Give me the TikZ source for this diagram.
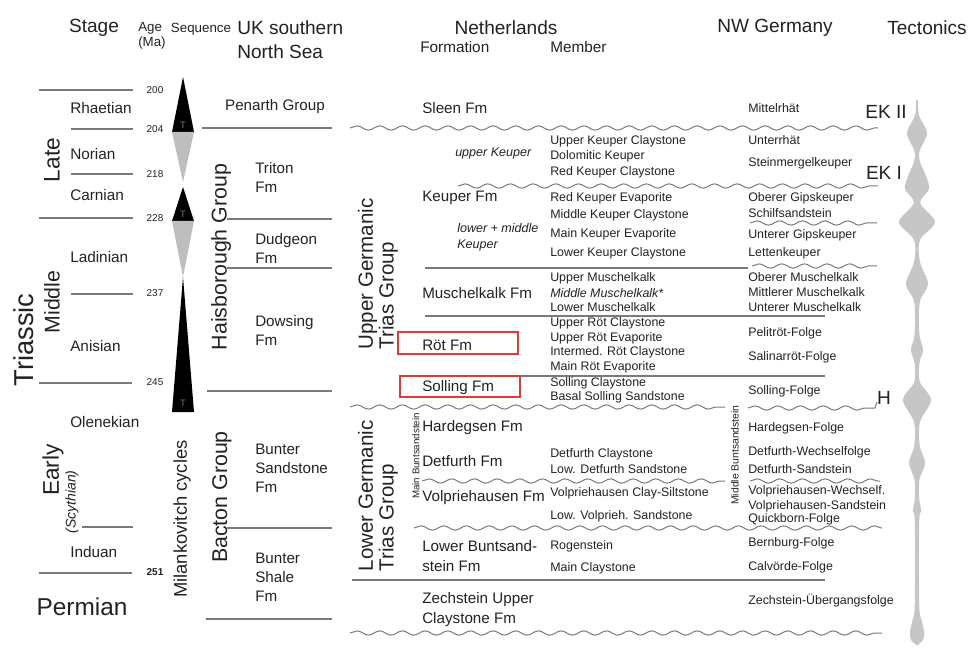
\documentclass[tikz,border=0pt]{standalone}
\usepackage{fontspec}
\setmainfont{Liberation Sans}
\usetikzlibrary{decorations.pathmorphing}
\definecolor{txt}{HTML}{222222}
\definecolor{rulegray}{HTML}{7A7A7A}
\definecolor{seqgray}{HTML}{BEBEBE}
\definecolor{tecgray}{HTML}{C6C6C6}
\definecolor{boxred}{HTML}{E53935}
\tikzset{
  every node/.style={text=txt, inner sep=0pt},
  head/.style={font=\fontsize{14.3}{18}\selectfont},
  smallhead/.style={font=\fontsize{10}{11}\selectfont},
  subhead/.style={font=\fontsize{11.5}{13}\selectfont, anchor=west},
  era/.style={font=\fontsize{17}{19}\selectfont, rotate=90},
  stage/.style={font=\fontsize{11.5}{13}\selectfont, anchor=west},
  agenum/.style={font=\fontsize{7.5}{9}\selectfont},
  grp/.style={font=\fontsize{16}{19}\selectfont, rotate=90},
  fm/.style={font=\fontsize{11.4}{14.25}\selectfont, anchor=west, align=left},
  mbr/.style={font=\fontsize{9.3}{11}\selectfont, anchor=west},
  nwname/.style={font=\fontsize{9.3}{11}\selectfont, anchor=west},
  bound/.style={draw=rulegray, line width=0.8pt},
  wavy/.style={draw=rulegray, line width=0.75pt, decorate,
    decoration={snake, segment length=17pt, amplitude=1.6pt}},
  redbox/.style={draw=boxred, line width=0.9pt},
}
\begin{document}
\begin{tikzpicture}[x=0.75pt, y=-0.75pt]
\useasboundingbox (0,0) rectangle (969,648);
% Column heads
\node[head] (hd-stage) at (94,28) {Stage};
\node[smallhead, anchor=west, align=left] (hd-age) at (138,36) {Age\\(Ma)};
\node[smallhead] (hd-seq) at (201,29) {Sequence};
\node[head, anchor=west, align=left] (hd-uk) at (237,40) {UK southern\\North Sea};
\node[head] (hd-nl) at (506,28) {Netherlands};
\node[subhead] (hd-fm) at (420,47) {Formation};
\node[subhead] (hd-mb) at (550,47) {Member};
\node[head] (hd-nw) at (775,28) {NW Germany};
\node[head] (hd-tec) at (927,28) {Tectonics};

% Stage column
\node[font=\fontsize{20.5}{22}\selectfont, rotate=90] (st-triassic) at (24,340) {Triassic};
\node[era] (st-late) at (52,160) {Late};
\node[era, font=\fontsize{16}{18}\selectfont] (st-middle) at (52,302) {Middle};
\node[era] (st-early) at (53,470) {Early};
\node[font=\fontsize{10.5}{12}\selectfont\itshape, rotate=90] (st-scyth) at (72,502) {(Scythian)};
\node[font=\fontsize{18.3}{20}\selectfont] (st-permian) at (82,607) {Permian};
\foreach \y/\s/\n in {108/Rhaetian/rhae, 154/Norian/nori, 195/Carnian/carn,
  257/Ladinian/ladi, 346/Anisian/anis, 422/Olenekian/olen, 552/Induan/indu}
  \node[stage] (st-\n) at (70,\y) {\s};
\draw[bound] (39,90) -- (133,90);
\draw[bound] (71,129) -- (133,129);
\draw[bound] (71,174) -- (133,174);
\draw[bound] (39,218) -- (133,218);
\draw[bound] (71,294) -- (133,294);
\draw[bound] (39,383) -- (132,383);
\draw[bound] (82,527) -- (133,527);
\draw[bound] (39,573) -- (132,573);

% Ages (Ma)
\foreach \y/\a in {90/200, 129/204, 174/218, 218/228, 293/237, 382/245}
  \node[agenum] (age\a) at (155,\y) {\a};
\node[agenum, font=\fontsize{7.5}{9}\selectfont\bfseries] (age251) at (155,572) {251};

% Sequence triangles
\fill[black] (183,77) -- (194,132) -- (172,132) -- cycle;
\fill[seqgray] (172,132) -- (194,132) -- (183,182) -- cycle;
\fill[black] (183,187) -- (194,221) -- (172,221) -- cycle;
\fill[seqgray] (172,221) -- (194,221) -- (183,277) -- cycle;
\fill[black] (183,277) -- (194,412) -- (172,412) -- cycle;
\foreach \y/\n in {125/a, 214/b, 403/c}
  \node[font=\fontsize{7}{8}\selectfont, text=black!55] (seq-t\n) at (183,\y) {T};
\node[font=\fontsize{13.8}{15}\selectfont, rotate=90] (seq-mila) at (182,519) {Milankovitch cycles};

% UK southern North Sea
\node[fm, anchor=center] (uk-penarth) at (275,107) {Penarth Group};
\node[grp] (uk-hais) at (221,257) {Haisborough Group};
\node[grp] (uk-bacton) at (222,497) {Bacton Group};
\node[fm] (uk-triton) at (255,177.5) {Triton\\Fm};
\node[fm] (uk-dudgeon) at (255,248.5) {Dudgeon\\Fm};
\node[fm] (uk-dowsing) at (255,330.5) {Dowsing\\Fm};
\node[fm] (uk-bsst) at (255,468) {Bunter\\Sandstone\\Fm};
\node[fm] (uk-bshale) at (255,577) {Bunter\\Shale\\Fm};
\draw[bound] (202,128) -- (332,128);
\draw[bound] (227,219) -- (332,219);
\draw[bound] (227,268) -- (332,268);
\draw[bound] (207,391) -- (332,391);
\draw[bound] (227,528) -- (332,528);
\draw[bound] (206,619) -- (332,619);

% Netherlands: groups
\node[font=\fontsize{15.4}{15.5}\selectfont, rotate=90, align=left] (nl-upper) at (378,274) {Upper Germanic\\Trias Group};
\node[font=\fontsize{15.4}{15.5}\selectfont, rotate=90, align=left] (nl-lower) at (378,496) {Lower Germanic\\Trias Group};
\node[font=\fontsize{7.3}{8}\selectfont, rotate=90] (nl-mainbs) at (416,456) {Main Buntsandstein};
\node[font=\fontsize{7.8}{8}\selectfont, rotate=90] (nw-midbs) at (735,455) {Middle Buntsandstein};

% Netherlands: formations
\node[fm] (nl-sleen) at (422,108) {Sleen Fm};
\node[fm] (nl-keuper) at (422,198) {Keuper Fm};
\node[fm] (nl-muschel) at (422,293) {Muschelkalk Fm};
\node[fm] (nl-rot) at (422,345) {Röt Fm};
\node[fm] (nl-solling) at (422,388) {Solling Fm};
\node[fm] (nl-hardeg) at (422,428) {Hardegsen Fm};
\node[fm] (nl-detf) at (422,461) {Detfurth Fm};
\node[fm] (nl-volp) at (422,498) {Volpriehausen Fm};
\node[fm, font=\fontsize{11.4}{15}\selectfont] (nl-lowbs) at (422,556) {Lower Buntsand-\\stein Fm};
\node[fm, font=\fontsize{11.4}{15}\selectfont] (nl-zech) at (422,610) {Zechstein Upper\\Claystone Fm};
\node[mbr, font=\fontsize{9.4}{12}\selectfont\itshape] (nl-upk) at (455,153) {upper Keuper};
\node[mbr, font=\fontsize{9.4}{12}\selectfont\itshape, align=left] (nl-lmk) at (457,237) {lower + middle\\Keuper};

% Netherlands: members
\foreach \y/\t [count=\i] in {141/Upper Keuper Claystone, 156/Dolomitic Keuper,
  172/Red Keuper Claystone, 198/Red Keuper Evaporite, 215/Middle Keuper Claystone,
  234/Main Keuper Evaporite, 253/Lower Keuper Claystone, 278/Upper Muschelkalk,
  293/\textit{Middle Muschelkalk*}, 307/Lower Muschelkalk, 323/Upper Röt Claystone,
  338/Upper Röt Evaporite, 352/Intermed. Röt Claystone, 367/Main Röt Evaporite,
  383/Solling Claystone, 397/Basal Solling Sandstone, 454/Detfurth Claystone,
  469/Low. Detfurth Sandstone, 493/Volpriehausen Clay-Siltstone,
  516/Low. Volprieh. Sandstone, 546/Rogenstein, 568/Main Claystone}
  \node[mbr] (mb\i) at (550,\y) {\t};

% NW Germany
\foreach \y/\t [count=\i] in {108/Mittelrhät, 140/Unterrhät, 163/Steinmergelkeuper,
  198/Oberer Gipskeuper, 213/Schilfsandstein, 235/Unterer Gipskeuper,
  253/Lettenkeuper, 277/Oberer Muschelkalk, 292/Mittlerer Muschelkalk,
  307/Unterer Muschelkalk, 333/Pelitröt-Folge, 357/Salinarröt-Folge,
  391/Solling-Folge, 428/Hardegsen-Folge, 452/Detfurth-Wechselfolge,
  469/Detfurth-Sandstein, 491/Volpriehausen-Wechself., 506/Volpriehausen-Sandstein,
  519/Quickborn-Folge, 543/Bernburg-Folge, 567/Calvörde-Folge,
  601/Zechstein-Übergangsfolge}
  \node[nwname] (nw\i) at (748,\y) {\t};

% Boundaries (straight and unconformities)
\draw[wavy] (350,128) -- (878,128);
\draw[wavy] (458,186) -- (878,186);
\draw[wavy] (750,223) -- (877,223);
\draw[bound] (425,268) -- (748,268);
\draw[wavy] (752,266) -- (877,266);
\draw[bound] (425,316) -- (825,316);
\draw[bound] (425,376) -- (825,376);
\draw[wavy] (350,407) -- (725,407);
\draw[wavy] (748,408) -- (875,408);
\draw[bound] (875,408) -- (877,402);
\draw[wavy] (422,481) -- (725,481);
\draw[wavy] (750,481) -- (880,481);
\draw[wavy] (414,528) -- (882,528);
\draw[bound] (352,580) -- (825,580);
\draw[wavy] (350,633) -- (882,633);

% Highlighted formations
\draw[redbox] (398,332) rectangle (518,354);
\draw[redbox] (400,376) rectangle (520,397);

% Tectonic events
\node[head] (tec-ek2) at (886,112) {EK II};
\node[head] (tec-ek1) at (884,173) {EK I};
\node[head] (tec-h) at (884,398) {H};
\begin{scope}[shift={(917,0)}]
\foreach \s in {1,-1}
  \fill[tecgray, xscale=\s] plot[smooth, tension=0.55] coordinates {
    (0.5,100) (2.2,116) (10,133) (2.6,151) (3,162) (9,176) (12,189) (3.2,203)
    (18,222) (3,240) (3,262) (11,284) (2.8,302) (2.4,334) (6,350) (2.4,363)
    (2.8,382) (14,400) (3,422) (2.8,446) (8,463) (2.4,480) (2.3,500) (4.2,511)
    (2.2,522) (2.2,604) (4.5,620) (7,632) (6,640) (0.5,645)}
    -- (-1,645) -- (-1,100) -- cycle;
\end{scope}
\end{tikzpicture}
\end{document}
